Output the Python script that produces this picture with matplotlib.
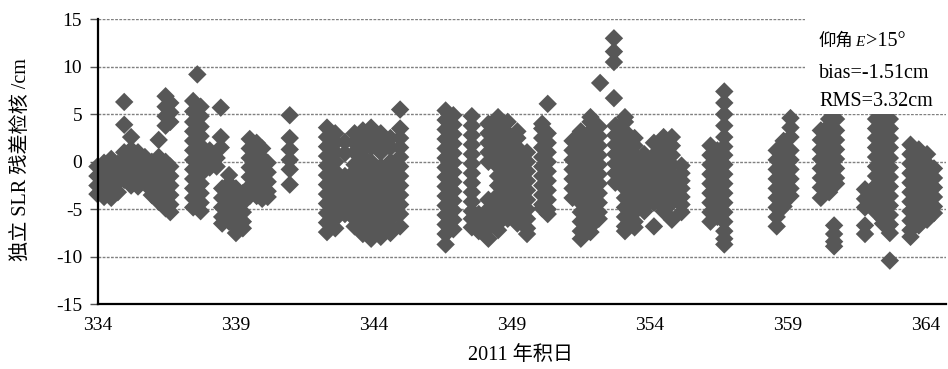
import numpy as np
import matplotlib
matplotlib.use("Agg")
import matplotlib.pyplot as plt
from matplotlib.patches import Rectangle

plt.rcParams['font.family'] = ['Liberation Serif', 'Noto Sans CJK SC']
plt.rcParams['axes.unicode_minus'] = False

# SLR residuals, one column of values per satellite pass (day of year 2011, cm)
pass_day = [
    333.98, 334.22, 334.48, 334.72,
    334.95, 335.2, 335.45, 335.7,
    335.95, 336.2, 336.45, 336.62,
    337.6, 337.45, 337.72,
    338.05, 338.3, 338.45, 338.75,
    338.5, 338.75, 339.0, 339.25,
    339.5, 339.75, 339.95, 340.15,
    340.95,
    342.3, 342.6, 342.95, 343.3, 343.6, 343.9, 344.25, 344.6, 344.95,
    346.6, 346.88, 347.55, 347.8, 348.15, 348.5, 348.85, 349.2, 349.55, 350.1, 350.3,
    351.2, 351.5, 351.85, 352.15, 352.2, 352.7,
    352.75, 353.1, 353.45, 353.8, 354.15, 354.5, 354.8, 355.15,
    356.2, 356.45, 356.7,
    358.6, 358.85, 359.1,
    360.2, 360.5, 360.75, 360.68, 361.8, 361.8,
    362.2, 362.45, 362.7,
    363.45, 363.75, 364.05, 364.3,
]
pass_resid = [
    [-0.5, -1.5, -2.5, -3.4],
    [-0.1, -1.0, -2.0, -3.0, -3.7],
    [0.3, -0.7, -1.7, -2.7, -3.8],
    [-0.2, -1.2, -2.2, -3.2],
    [6.3, 3.9, 1.0, 0.1, -0.9, -1.9],
    [2.6, 1.3, 0.4, -0.6, -1.6, -2.5],
    [1.0, 0.0, -1.0, -2.0, -2.6],
    [0.5, -0.5, -1.5, -2.1],
    [0.0, -1.0, -2.0, -3.0, -3.5],
    [2.3, 0.5, -0.5, -1.5, -2.5, -3.5, -4.2],
    [6.9, 5.8, 4.8, 3.8, 0.0, -1.0, -2.0, -3.0, -4.0, -4.9],
    [6.2, 5.2, 4.2, -0.5, -1.5, -2.5, -3.5, -4.5, -5.3],
    [9.2],
    [6.4, 5.3, 4.2, 3.2, 2.2, 1.2, 0.2, -0.8, -1.8, -2.8, -3.8, -4.8],
    [5.8, 4.8, 3.7, 2.7, 1.7, 0.7, -0.3, -1.3, -2.3, -3.3, -4.3, -5.2],
    [1.2, 0.3, -0.6],
    [0.4, -0.5],
    [5.7, 2.6, 1.5],
    [-1.4],
    [-2.8, -3.8, -4.8, -5.8, -6.5],
    [-2.3, -3.3, -4.3, -5.3, -6.3],
    [-2.8, -3.8, -4.8, -5.8, -6.8, -7.5],
    [-3.3, -4.3, -5.3, -6.3, -7.0],
    [2.4, 1.4, 0.4, -0.6, -1.6, -2.6, -3.6],
    [2.0, 0.9, -0.1, -1.1, -2.1, -3.1, -3.6],
    [1.4, 0.4, -0.6, -1.6, -2.6, -3.6, -3.9],
    [-0.1, -1.1, -2.1, -3.1, -3.7],
    [4.9, 2.5, 1.3, 0.2, -0.8, -2.4],
    [3.6, 2.6, 1.6, 0.6, -0.4, -1.4, -2.4, -3.4, -4.4, -5.4, -6.4, -7.4],
    [3.0, 2.0, 1.0, 0.0, -1.0, -2.0, -3.0, -4.0, -5.0, -6.0, -7.0],
    [2.1, 0.9, -1.5, -2.5, -3.5, -4.5, -5.5],
    [3.0, 2.0, 1.0, -0.3, -1.0, -2.0, -3.0, -4.0, -5.0, -6.0, -6.8],
    [3.3, 2.3, 1.3, 0.5, -0.5, -1.5, -2.5, -3.5, -4.5, -5.5, -6.5, -7.6],
    [3.6, 2.5, 1.5, 0.0, -1.0, -2.0, -3.0, -4.0, -5.0, -6.0, -7.0, -8.1],
    [3.0, 2.0, 1.0, -0.5, -1.5, -2.5, -3.5, -4.5, -5.5, -6.5, -7.3, -7.9],
    [2.5, 1.5, 0.0, -1.0, -2.0, -3.0, -4.0, -5.0, -6.0, -7.0, -7.5],
    [5.5, 3.5, 2.5, 1.5, 0.5, -0.5, -1.5, -2.5, -3.5, -4.5, -5.5, -6.8],
    [5.4, 4.4, 3.4, 2.4, 1.4, 0.4, -0.6, -1.6, -2.6, -3.6, -4.6, -5.6, -6.6, -7.6, -8.7],
    [4.9, 3.9, 2.9, 1.9, 0.9, -0.1, -1.1, -2.1, -3.1, -4.1, -5.1, -6.1, -7.1],
    [4.8, 3.8, 2.8, 1.8, 0.8, -0.2, -1.2, -2.2, -3.2, -4.2, -5.2, -6.0, -6.9],
    [-5.5, -6.5, -7.3],
    [4.0, 3.0, 2.0, 1.0, 0.0, -4.0, -5.0, -6.0, -7.0, -8.1],
    [4.7, 3.5, 2.5, 1.5, 0.5, -0.5, -1.5, -2.5, -3.5, -4.5, -5.5, -6.5, -7.2],
    [4.2, 3.0, 2.0, 1.0, 0.0, -1.0, -2.0, -3.0, -4.0, -5.0, -6.0],
    [3.2, 2.5, 1.5, 0.5, -0.5, -1.5, -2.5, -3.5, -4.5, -5.5, -6.5],
    [1.0, 0.0, -1.0, -2.0, -3.0, -4.0, -5.0, -6.0, -7.0, -7.6],
    [4.0, 3.5, 2.5, 1.5, 0.5, -0.5, -1.5, -2.5, -3.5, -4.5, -4.9],
    [6.1, 3.0, 2.0, 1.0, 0.0, -1.0, -2.0, -3.0, -4.0, -5.0, -5.5],
    [2.2, 1.2, 0.2, -0.8, -1.8, -2.8, -3.8],
    [3.2, 2.7, 1.7, 0.7, -0.3, -1.3, -2.3, -3.3, -4.3, -5.3, -6.3, -7.3, -8.1],
    [4.7, 4.2, 3.2, 2.2, 1.2, 0.2, -0.8, -1.8, -2.8, -3.8, -4.8, -5.8, -6.8, -7.4],
    [3.7, 2.7, 1.7, 0.7, -0.3, -1.3, -2.3, -3.3, -4.3, -5.3, -6.0],
    [8.3],
    [13.0, 11.6, 10.5, 6.7],
    [3.8, 2.8, 1.8, 0.8, -0.2, -1.2, -2.2],
    [4.7, 4.2, 3.2, 2.2, 1.2, 0.2, -0.8, -1.8, -2.8, -3.8, -4.8, -5.8, -6.8, -7.3],
    [2.5, 1.7, 0.7, -0.3, -1.3, -2.3, -3.3, -4.3, -5.3, -6.3, -6.9],
    [0.8, 0.2, -0.8, -1.8, -2.8, -3.8, -4.8, -5.2],
    [2.0, 0.7, -0.3, -1.3, -2.3, -3.3, -4.3, -6.8],
    [2.6, 1.2, 0.2, -0.8, -1.8, -2.8, -3.8, -4.8, -5.2],
    [2.6, 1.7, 0.7, -0.3, -1.3, -2.3, -3.3, -4.3, -6.1],
    [-0.4, -1.2, -2.0, -2.8, -3.7, -4.5, -5.3],
    [1.7, 0.7, -0.3, -1.3, -2.3, -3.3, -4.3, -5.3, -6.3],
    [1.2, 0.2, -0.8, -1.8, -2.8, -3.8, -4.8, -5.8],
    [7.4, 6.2, 5.0, 3.8, 2.6, 1.6, 0.7, -0.3, -1.3, -2.3, -3.3, -4.3, -5.3, -6.3, -7.3, -8.1, -8.7],
    [1.2, 0.2, -0.8, -1.8, -2.8, -3.8, -4.8, -5.8, -6.8],
    [2.2, 1.7, 0.7, -0.3, -1.3, -2.3, -3.3, -4.3, -4.7],
    [4.6, 3.6, 2.6, 1.2, 0.2, -0.8, -1.8, -2.8, -3.6],
    [3.3, 2.3, 1.3, 0.3, -0.7, -1.7, -2.7, -3.8],
    [5.5, 4.5, 3.8, 2.8, 1.8, 0.8, -0.2, -1.2, -2.2, -3.2],
    [5.5, 4.5, 3.3, 2.3, 1.3, 0.3, -0.7, -1.7, -2.3],
    [-6.7, -7.6, -8.4, -8.9],
    [-2.9, -3.9, -4.8],
    [-6.7, -7.6],
    [5.5, 4.5, 3.5, 2.5, 1.5, 0.5, -0.5, -1.5, -2.5, -3.5, -4.5, -5.3],
    [5.5, 5.0, 4.0, 3.0, 2.0, 1.0, 0.0, -1.0, -2.0, -3.0, -4.0, -5.0, -6.0, -6.5],
    [5.5, 4.5, 3.5, 2.5, 1.5, 0.4, -0.6, -1.6, -2.6, -3.6, -4.6, -5.6, -6.6, -7.5, -10.4],
    [1.8, 0.8, -0.2, -1.2, -2.2, -3.2, -4.2, -5.2, -6.2, -7.2, -7.9],
    [1.3, 0.3, -0.7, -1.7, -2.7, -3.7, -4.7, -5.7, -6.7],
    [0.8, -0.2, -1.2, -2.2, -3.2, -4.2, -5.2, -6.1],
    [-0.7, -1.7, -2.7, -3.7, -4.7, -5.4],
]

x_ticks = [334, 339, 344, 349, 354, 359, 364]
y_ticks = [-15, -10, -5, 0, 5, 10, 15]

days = np.concatenate([[d] * len(r) for d, r in zip(pass_day, pass_resid)])
resid = np.concatenate(pass_resid)

W, H = 948, 369
fig = plt.figure(figsize=(W / 100, H / 100), dpi=100)
ax = fig.add_axes([98 / W, 1 - 304.3 / H, 848 / W, 285 / H])

ax.scatter(days, resid, marker='D', s=88, facecolor='#575757',
           edgecolor='none', zorder=3, clip_on=False)

ax.set_xlim(334, 334 + 848 / 27.59)
ax.set_ylim(-15, 15)
ax.set_xticks(x_ticks)
ax.set_yticks(y_ticks)
ax.tick_params(axis='x', length=0, pad=9, labelsize=14)
ax.tick_params(axis='y', length=5.5, width=1.0, color='#555555', pad=6, labelsize=14)

ax.grid(axis='y', color='#808080', linewidth=1.0, linestyle=(0, (2, 1)), zorder=1)
ax.set_axisbelow(True)
for side in ['top', 'right']:
    ax.spines[side].set_visible(False)
for side in ['left', 'bottom']:
    ax.spines[side].set_linewidth(1.6)
    ax.spines[side].set_color('black')
    ax.spines[side].set_zorder(4)

# white panel behind the statistics text
ax.add_patch(Rectangle((334 + (805 - 98) / 27.59, 5.05), 8, 12,
                       facecolor='white', edgecolor='none', zorder=5, clip_on=False))

def fx(px):
    return px / W

def fy(py):
    return 1 - py / H

fig.text(fx(818), fy(45.5), '仰角', fontsize=12.5, va='baseline', zorder=6)
fig.text(fx(855), fy(45.5), 'E', fontsize=11, style='italic', va='baseline', zorder=6)
fig.text(fx(866), fy(45.5), '>15°', fontsize=14.5, va='baseline', zorder=6)
fig.text(fx(819), fy(78), 'bias=-1.51cm', fontsize=14.5, va='baseline', zorder=6)
fig.text(fx(819), fy(106), 'RMS=3.32cm', fontsize=14.5, va='baseline', zorder=6)

fig.text(fx(521), fy(356), '2011 年积日', fontsize=14.5, ha='center', va='center')
fig.text(fx(22), fy(160), '独立 SLR 残差检核 /cm', fontsize=14.5,
         ha='center', va='center', rotation=90)

fig.savefig('out.png', dpi=100)
